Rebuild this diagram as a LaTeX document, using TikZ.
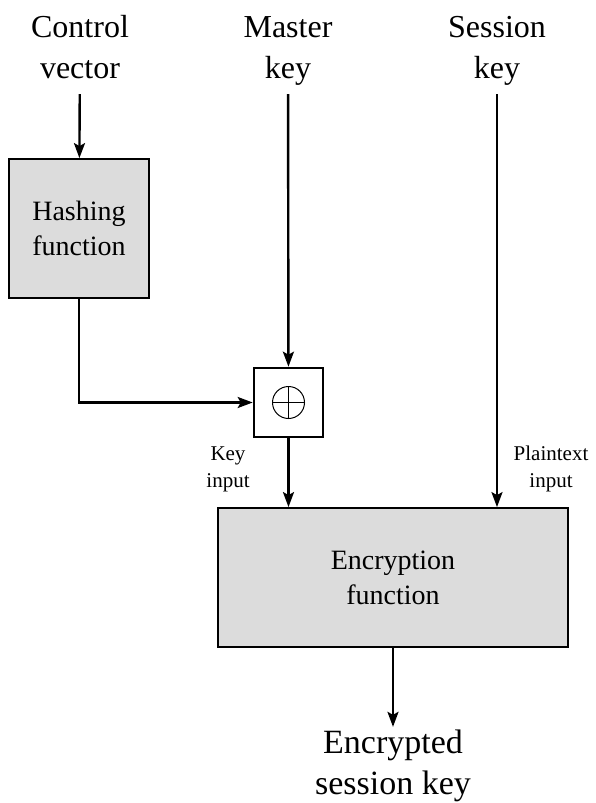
\documentclass[tikz,border=0pt]{standalone}
\usepackage{fontspec}
\setmainfont{LiberationSerif}[Extension=.ttf,UprightFont=*-Regular,
  BoldFont=*-Bold,ItalicFont=*-Italic,BoldItalicFont=*-BoldItalic]
\usetikzlibrary{arrows.meta,positioning,calc}
\definecolor{boxgray}{RGB}{220,220,220}

\tikzset{
  flow/.style={-{Stealth[length=15pt,width=11pt,inset=3pt]},line width=2.4pt},
  title/.style={align=center,inner sep=3pt,font=\fontsize{32}{41}\selectfont},
  fnbox/.style={draw,line width=1.8pt,fill=boxgray,align=center,
                font=\fontsize{28}{35}\selectfont},
  small/.style={align=center,inner sep=0pt,font=\fontsize{21}{27}\selectfont}
}

\begin{document}
\begin{tikzpicture}[x=1pt,y=-1pt]
  \useasboundingbox (0,0) rectangle (596,803);
  % inputs along the top
  \node[title] (cv) at (80,50) {Control\strut\\vector\strut};
  \node[title] (mk) at (288,50) {Master\strut\\key\strut};
  \node[title] (sk) at (497,50) {Session\strut\\key\strut};
  % hashing and xor
  \node[fnbox,minimum width=140pt,minimum height=139pt] (hash) at (79,228.5)
        {Hashing\\function};
  \node[draw,line width=2.6pt,fill=white,minimum size=69pt] (xor) at (288.5,402.5) {};
  \node[draw,circle,line width=1pt,minimum size=32pt,inner sep=0pt,
        path picture={\draw[line width=1pt]
          (path picture bounding box.north) -- (path picture bounding box.south)
          (path picture bounding box.west) -- (path picture bounding box.east);}]
        (plus) at (xor) {};
  % encryption
  \node[fnbox,minimum width=350pt,minimum height=139pt] (enc) at (393,577.5)
        {Encryption\\function};
  \node[small] (kin) at (228,469) {Key\\input};
  \node[small] (pin) at (551,469) {Plaintext\\input};
  \node[title,font=\fontsize{34}{41}\selectfont] (out) at (393,766)
        {Encrypted\\session key};
  % connectors
  \draw[flow] (cv) -- (hash);
  \draw[flow] (mk) -- (xor);
  \draw[flow] (hash.south) |- (xor.west);
  \draw[flow] (sk) -- (sk |- enc.north);
  \draw[flow] (xor.south) -- (xor.south |- enc.north);
  \draw[flow] (enc) -- (out);
\end{tikzpicture}
\end{document}
